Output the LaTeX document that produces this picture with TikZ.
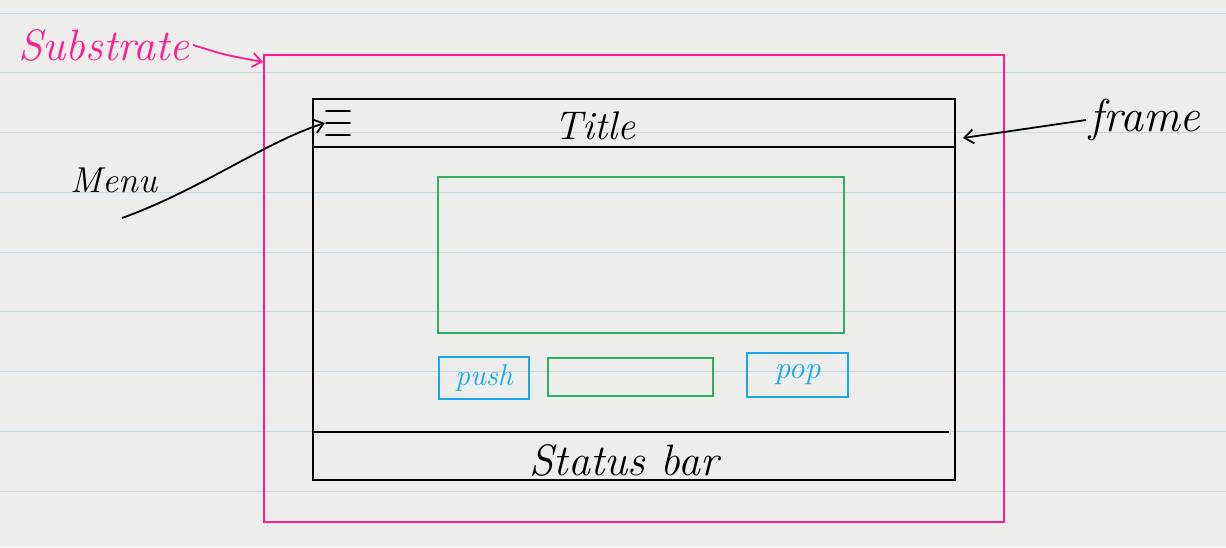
\documentclass[tikz,border=0pt]{standalone}
\usetikzlibrary{arrows.meta}
\definecolor{paper}{HTML}{EDEDEB}
\definecolor{rule}{HTML}{C6DAE5}
\definecolor{hotpink}{HTML}{FF1D8E}
\definecolor{gbox}{HTML}{2EAE62}
\definecolor{bbox}{HTML}{1AA8EC}
\begin{document}
\begin{tikzpicture}[x=1pt,y=-1pt,
  box/.style={draw,line width=1.8pt,minimum width=#1,inner sep=0pt},
  hand/.style={font=\fontsize{#1}{#1}\selectfont\itshape},
  lbl/.style={line width=1.8pt,-{Straight Barb[length=9pt,width=14pt]}}]
\useasboundingbox (0,0) rectangle (1226,547);
\fill[paper] (0,0) rectangle (1226,547);
\foreach \y in {13,72.5,132,192,252,311,371,431,491}
  \draw[rule,line width=1pt] (0,\y) -- (1226,\y);
% substrate
\node[box=740pt,draw=hotpink,minimum height=467pt] (sub) at (634,288.5) {};
% frame
\node[box=642pt,draw=black,minimum height=381pt] (frame) at (634,289.5) {};
\coordinate (tbl) at (313,147);
\coordinate (tbr) at (955,147);
\draw[line width=1.8pt] (tbl) -- (tbr);
\coordinate (sbl) at (313,432);
\coordinate (sbr) at (949,432);
\draw[line width=1.8pt] (sbl) -- (sbr);
\node[hand=40] (title) at (595,126) {Title};
% menu icon
\node[minimum width=26pt,minimum height=26pt,inner sep=0pt] (menuicon) at (338,123) {};
\foreach \y in {-12,0,12}
  \draw[line width=1.8pt,line cap=round] ([xshift=-12pt,yshift=\y pt]menuicon.center) -- ([xshift=12pt,yshift=\y pt]menuicon.center);
% content
\node[box=406pt,draw=gbox,minimum height=156pt] (view) at (641,255) {};
\node[box=90pt,draw=bbox,minimum height=42pt,text=bbox,hand=30] (push) at (484,378) {push};
\node[box=165pt,draw=gbox,minimum height=38pt] (field) at (630.5,377) {};
\node[box=101pt,draw=bbox,minimum height=44pt,text=bbox,hand=32] (pop) at (797.5,375) {pop};
\node[hand=44] (status) at (624,460) {Status bar};
% labels
\node[hand=44,text=hotpink] (sublbl) at (104,45) {Substrate};
\coordinate (subtip) at (263,62);
\draw[lbl,hotpink] (sublbl.east) .. controls (225,55) .. (subtip);
\node[hand=36] (menulbl) at (114,180) {Menu};
\coordinate (menustart) at (122,218);
\draw[lbl] (menustart) .. controls (200,190) and (265,142) .. (menuicon.west);
\node[hand=46] (framelbl) at (1145,120) {frame};
\coordinate (frametip) at (963,138);
\draw[lbl] (framelbl.west) -- (frametip);
\end{tikzpicture}
\end{document}
